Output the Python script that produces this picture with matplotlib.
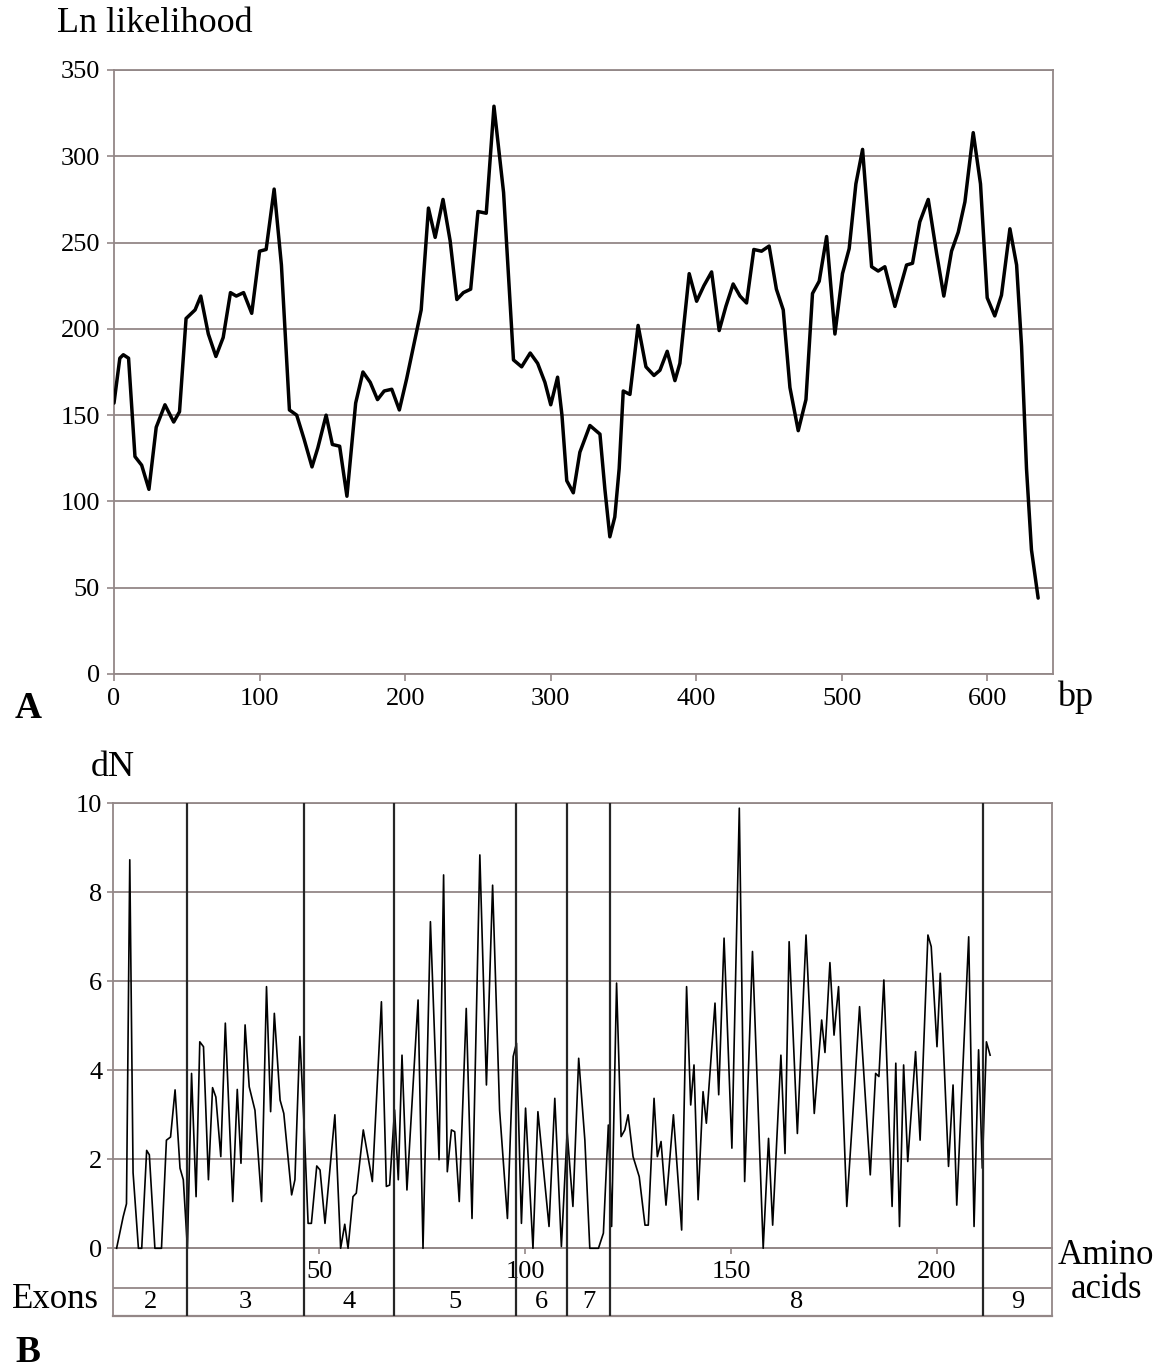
import matplotlib
matplotlib.use("Agg")
import matplotlib.pyplot as plt

plt.rcParams['font.family'] = ['Liberation Serif', 'DejaVu Serif']

# ---- panel A : log likelihood along the alignment (bp) ----
bp = [0, 4, 6.4, 10, 14.4, 19, 24, 29, 35, 41,
      45, 49.5, 55.7, 59.6, 64.8, 70, 75, 80, 84, 89,
      94.6, 100, 104.5, 110, 115, 120.5, 125.5, 130.6, 136, 140,
      145.7, 150, 155, 160, 166, 171, 176, 181, 185.6, 190.8,
      196, 201, 207, 211, 216, 220.6, 226, 230.9, 235.5, 240,
      245, 250, 255.7, 261, 267.6, 274.4, 280, 285.9, 291, 296,
      300, 304.7, 307.7, 311, 315.5, 320, 326.9, 333.8, 337.2, 340.6,
      344, 347, 349.8, 354.4, 360, 365.4, 370.9, 375, 380, 385.3,
      388.7, 395.1, 400.2, 405.2, 410.5, 415.7, 420.3, 425.3, 430, 434.5,
      439.5, 444.8, 450, 455, 459.7, 464.3, 470, 475.3, 479.8, 484.4,
      489.5, 495.2, 500.4, 505, 509.6, 514.2, 520.4, 524.9, 529.5, 536.4,
      544.4, 548.5, 553.5, 559.3, 565, 570, 575.3, 579.9, 584.5, 590.2,
      595.2, 599.8, 605, 609.6, 615.4, 620, 623.4, 626.8, 630.2, 634.8]
ln_lik = [157, 183, 185, 183, 126, 121, 107, 143, 156, 146,
          152, 206, 211, 219, 197, 184, 195, 221, 219, 221,
          209, 245, 246, 281, 237, 153, 150, 136, 120, 131,
          150, 133, 132, 103, 157, 175, 169, 159, 164, 165,
          153, 171, 195, 211, 270, 253, 275, 251, 217, 221,
          223, 268, 267, 329, 279, 182, 178, 186, 180, 169,
          156, 172, 150, 112, 105, 128.5, 144, 139, 107, 79.5,
          91, 119, 164, 162, 202, 178, 173, 176, 187, 170,
          180, 232, 216, 225, 233, 199, 213, 226, 219, 215,
          246, 245, 248, 223, 211, 166, 141, 159, 220.5, 227.6,
          253.5, 197, 232, 246.5, 284, 304, 236, 233.5, 236, 213,
          237, 238, 262, 275, 244, 219, 245, 256, 273.6, 313.7,
          284, 218, 207.5, 219.5, 258, 237, 190, 119, 72, 44]
bp_ticks = [0, 100, 200, 300, 400, 500, 600]
lnl_ticks = [0, 50, 100, 150, 200, 250, 300, 350]

# ---- panel B : dN along the protein (amino acids) ----
aa = [0.8, 2.4, 3.2, 4.0, 4.8, 6.1, 6.9, 8.1, 8.75, 10.1,
      11.7, 12.9, 13.9, 15.0, 16.2, 17.0, 18.0, 19.0, 20.1, 21.0,
      21.9, 23.1, 24.1, 24.9, 26.1, 27.2, 29.0, 30.1, 31.0, 32.0,
      33.0, 34.4, 36.0, 37.2, 38.2, 39.1, 40.5, 41.4, 43.3, 44.1,
      45.3, 46.3, 47.3, 48.1, 49.4, 50.2, 51.4, 53.8, 55.2, 56.2,
      57.0, 58.2, 59.0, 60.7, 62.9, 65.1, 66.3, 67.1, 68.3, 69.2,
      70.1, 71.3, 74.0, 75.2, 77.0, 79.1, 80.2, 81.1, 82.1, 82.9,
      84.0, 85.7, 87.1, 89.0, 90.6, 92.1, 93.8, 95.7, 97.1, 97.9,
      99.1, 100.1, 101.9, 103.1, 105.8, 107.2, 108.8, 110.2, 111.6, 113.0,
      114.5, 115.7, 117.8, 119.0, 120.2, 121.0, 122.2, 123.3, 124.2, 125.0,
      126.2, 127.7, 129.1, 129.9, 131.3, 132.1, 133.0, 134.2, 136.0, 138.0,
      139.2, 140.2, 141.0, 142.0, 143.2, 144.0, 146.1, 147.0, 148.3, 150.2,
      152.0, 153.3, 155.2, 157.8, 159.1, 160.1, 162.1, 163.1, 164.1, 166.1,
      168.2, 170.2, 172.0, 172.8, 174.0, 175.0, 176.1, 178.1, 180.0, 181.2,
      183.8, 185.1, 185.9, 187.1, 189.1, 190.0, 190.9, 191.9, 192.9, 194.8,
      195.9, 197.8, 198.6, 200.0, 200.8, 202.8, 203.9, 204.8, 207.7, 209.0,
      210.1, 211.0, 212.0, 212.9]
dn = [0, 0.71, 1.0, 8.73, 1.7, 0, 0, 2.2, 2.1, 0,
      0, 2.43, 2.5, 3.56, 1.8, 1.54, 0, 3.93, 1.16, 4.64,
      4.53, 1.54, 3.61, 3.4, 2.06, 5.06, 1.05, 3.57, 1.91, 5.02,
      3.63, 3.1, 1.05, 5.88, 3.07, 5.28, 3.33, 3.03, 1.2, 1.54,
      4.76, 2.81, 0.56, 0.56, 1.85, 1.76, 0.56, 3.0, 0, 0.54,
      0, 1.16, 1.24, 2.66, 1.5, 5.54, 1.39, 1.42, 3.11, 1.54,
      4.34, 1.31, 5.58, 0, 7.34, 1.99, 8.39, 1.72, 2.66, 2.62,
      1.05, 5.39, 0.67, 8.84, 3.67, 8.16, 3.1, 0.67, 4.31, 4.61,
      0.56, 3.15, 0, 3.07, 0.49, 3.37, 0.04, 2.62, 0.94, 4.27,
      2.43, 0, 0, 0.34, 2.77, 0.49, 5.96, 2.51, 2.66, 3.0,
      2.06, 1.61, 0.52, 0.52, 3.37, 2.06, 2.4, 0.97, 3.0, 0.41,
      5.88, 3.22, 4.12, 1.09, 3.52, 2.81, 5.51, 3.45, 6.97, 2.25,
      9.89, 1.5, 6.67, 0, 2.47, 0.52, 4.34, 2.13, 6.89, 2.58,
      7.04, 3.03, 5.13, 4.4, 6.42, 4.79, 5.88, 0.94, 3.63, 5.43,
      1.65, 3.93, 3.86, 6.03, 0.94, 4.16, 0.49, 4.12, 1.95, 4.42,
      2.43, 7.04, 6.78, 4.53, 6.18, 1.84, 3.67, 0.97, 7.0, 0.49,
      4.46, 1.8, 4.64, 4.34]
aa_ticks = [50, 100, 150, 200]
dn_ticks = [0, 2, 4, 6, 8, 10]

# exon boundaries (in amino acids) and exon numbers
exon_edges = [0, 18.0, 46.3, 68.2, 97.7, 110.2, 120.7, 211.2, 228]
exon_names = ['2', '3', '4', '5', '6', '7', '8', '9']

W, H = 1164, 1372
grey = '#938787'


def fx(px):
    return px / W


def fy(py):
    return 1 - py / H


fig = plt.figure(figsize=(W / 100, H / 100), dpi=100)

# ---------- A ----------
ax_a = fig.add_axes([fx(114), fy(674), fx(1053) - fx(114), fy(70) - fy(674)])
ax_a.plot(bp, ln_lik, color='black', lw=2.5, solid_joinstyle='round',
          solid_capstyle='round', zorder=3)
ax_a.set_xlim(0, 645)
ax_a.set_ylim(0, 350)
ax_a.set_xticks(bp_ticks)
ax_a.set_yticks(lnl_ticks)
ax_a.yaxis.grid(True, color=grey, lw=1.3)
ax_a.set_axisbelow(True)
for s in ax_a.spines.values():
    s.set_color(grey)
    s.set_linewidth(1.3)
ax_a.tick_params(axis='both', color=grey, length=5, width=1.2, labelsize=19)
ax_a.tick_params(axis='x', pad=5)
ax_a.tick_params(axis='y', pad=5)

fig.text(fx(57), fy(23), 'Ln likelihood', fontsize=26, ha='left', va='center')
fig.text(fx(28), fy(708), 'A', fontsize=27, fontweight='bold', ha='center', va='center')
fig.text(fx(1057), fy(697), 'bp', fontsize=26, ha='left', va='center')

# ---------- B ----------
row_top, row_bottom = -0.89, -1.515
ax_b = fig.add_axes([fx(113.3), fy(1315.7), fx(1052.3) - fx(113.3), fy(803.3) - fy(1315.7)])
ax_b.plot(aa, dn, color='black', lw=1.2, solid_joinstyle='round', zorder=3)
ax_b.set_xlim(exon_edges[0], exon_edges[-1])
ax_b.set_ylim(row_bottom, 10)
ax_b.set_xticks(aa_ticks)
ax_b.set_yticks(dn_ticks)
ax_b.yaxis.grid(True, color=grey, lw=1.3)
ax_b.set_axisbelow(True)
for s in ax_b.spines.values():
    s.set_color(grey)
    s.set_linewidth(1.3)
ax_b.spines['bottom'].set_position(('data', 0))
ax_b.axhline(row_bottom, color=grey, lw=1.6, clip_on=False)
ax_b.axhline(row_top, color=grey, lw=1.3)
ax_b.vlines(exon_edges[1:-1], row_bottom, 10, color='#262626', lw=1.6, zorder=4)
for i, name in enumerate(exon_names):
    mid = (exon_edges[i] + exon_edges[i + 1]) / 2
    ax_b.text(mid, (row_top + row_bottom) / 2, name, fontsize=19,
              ha='center', va='center')
ax_b.tick_params(axis='both', color=grey, length=4, width=1.2, labelsize=19)
ax_b.tick_params(axis='x', pad=5)
ax_b.tick_params(axis='y', pad=4)

fig.text(fx(113), fy(767), 'dN', fontsize=26, ha='center', va='center')
fig.text(fx(12), fy(1299), 'Exons', fontsize=25, ha='left', va='center')
fig.text(fx(1106), fy(1255), 'Amino', fontsize=25, ha='center', va='center')
fig.text(fx(1106), fy(1289), 'acids', fontsize=25, ha='center', va='center')
fig.text(fx(28), fy(1353), 'B', fontsize=27, fontweight='bold', ha='center', va='center')

fig.savefig('out.png', dpi=100)
